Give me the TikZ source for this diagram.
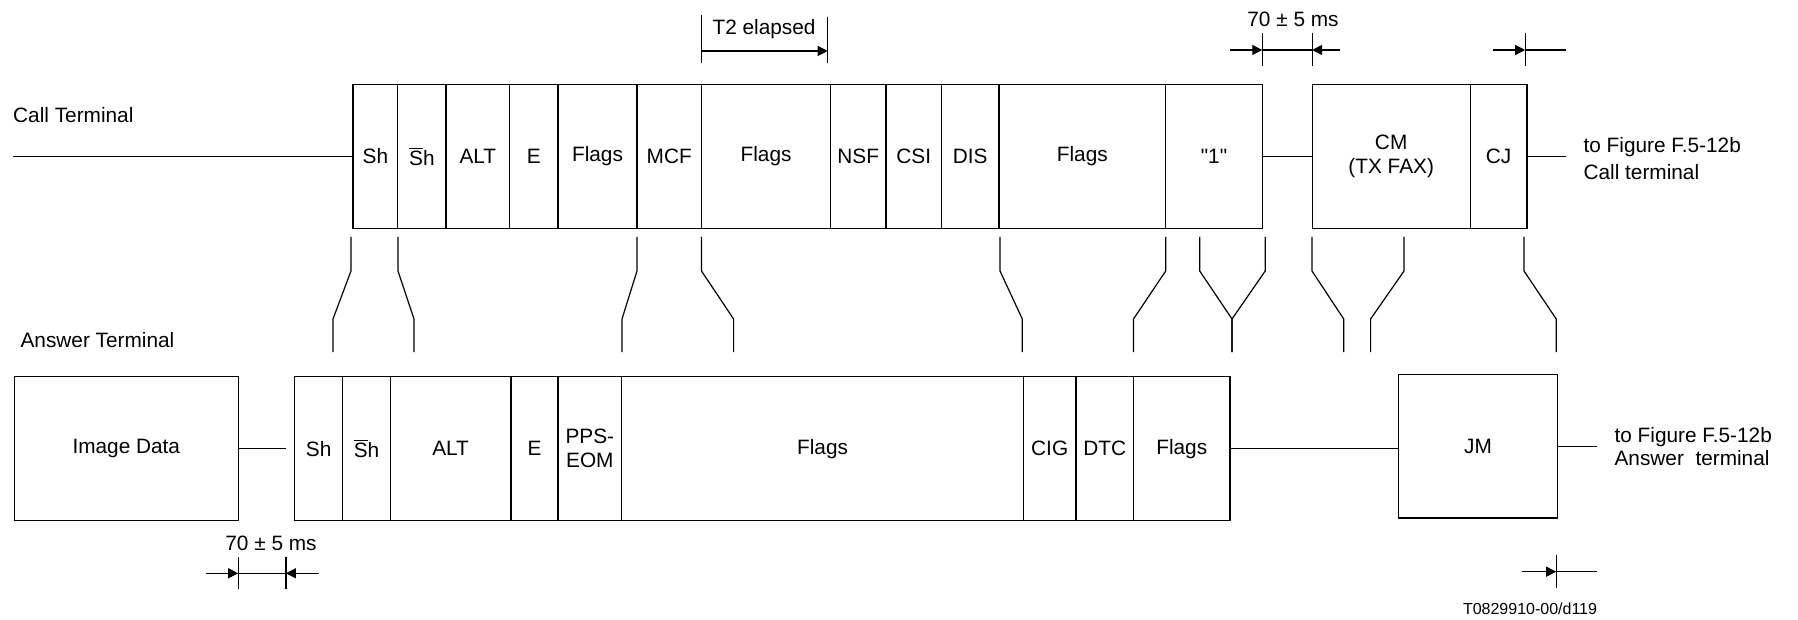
\documentclass[tikz,border=0pt]{standalone}
\usepackage{fontspec}
\setmainfont{Liberation Sans}
\usetikzlibrary{arrows.meta, positioning}

\begin{document}
\begin{tikzpicture}[
    x=0.5pt, y=-0.5pt,
    line width=0.6pt,
    node distance=0pt,
    font=\fontsize{10.4}{12}\selectfont,
    cell/.style={rectangle, draw, minimum height=72pt, inner sep=0pt, outer sep=0pt, align=center},
    label_style/.style={inner sep=0pt},
    to_style/.style={align=left, inner xsep=8.5pt, inner ysep=0pt, anchor=west},
    dim_arrow/.style={-{Triangle[length=5pt, width=5pt]}}
]
\useasboundingbox (0,0) rectangle (1798,620);

% call terminal
\node[label_style, anchor=west] (call_lbl) at (12.6,115) {Call Terminal};
\coordinate (call_start) at (12.6,156.5);
\node[cell, minimum width=22.4pt, anchor=west] (c_sh) at (353,156.5) {Sh};
\node[cell, minimum width=24.1pt, right=of c_sh] (c_shbar) {$\overline{\mbox{S}}$h};
\node[cell, minimum width=31.85pt, right=of c_shbar] (c_alt) {ALT};
\node[cell, minimum width=24.15pt, right=of c_alt] (c_e) {E};
\node[cell, minimum width=39.5pt, right=of c_e] (c_flags1) {Flags};
\node[cell, minimum width=32.25pt, right=of c_flags1] (c_mcf) {MCF};
\node[cell, minimum width=64.55pt, right=of c_mcf] (c_flags2) {Flags};
\node[cell, minimum width=27.65pt, right=of c_flags2] (c_nsf) {NSF};
\node[cell, minimum width=27.8pt, right=of c_nsf] (c_csi) {CSI};
\node[cell, minimum width=28.7pt, right=of c_csi] (c_dis) {DIS};
\node[cell, minimum width=83.4pt, right=of c_dis] (c_flags3) {Flags};
\node[cell, minimum width=48.3pt, right=of c_flags3] (c_one) {\textquotedbl 1\textquotedbl};
\node[cell, minimum width=79.05pt, anchor=west] (c_cm) at (1312.1,156.5) {CM\\(TX FAX)};
\node[cell, minimum width=28.4pt, right=of c_cm] (c_cj) {CJ};
\node[to_style, font=\fontsize{10.4}{13.4}\selectfont] (call_to) at (1566,158.5) {to Figure F.5-12b\\Call terminal};

\draw (call_start) -- (c_sh.west);
\draw (c_one.east) -- (c_cm.west);
\draw (c_cj.east) -- (c_cj.east -| call_to.west);

% answer terminal
\node[label_style, anchor=west] (ans_lbl) at (20,340) {Answer Terminal};
\node[cell, minimum width=111.9pt, anchor=west] (a_img) at (14.4,448.7) {Image Data};
\node[cell, minimum width=24.1pt, anchor=west] (a_sh) at (294.5,448.7) {Sh};
\node[cell, minimum width=23.8pt, right=of a_sh] (a_shbar) {$\overline{\mbox{S}}$h};
\node[cell, minimum width=60.3pt, right=of a_shbar] (a_alt) {ALT};
\node[cell, minimum width=23.55pt, right=of a_alt] (a_e) {E};
\node[cell, minimum width=31.85pt, right=of a_e] (a_pps) {PPS-\\EOM};
\node[cell, minimum width=200.85pt, right=of a_pps] (a_flags1) {Flags};
\node[cell, minimum width=26.3pt, right=of a_flags1] (a_cig) {CIG};
\node[cell, minimum width=28.75pt, right=of a_cig] (a_dtc) {DTC};
\node[cell, minimum width=48.25pt, right=of a_dtc] (a_flags2) {Flags};
\node[cell, minimum width=79.35pt, minimum height=71.85pt, anchor=west] (a_jm) at (1398.7,446.2) {JM};
\node[to_style, font=\fontsize{10.4}{11.7}\selectfont] (ans_to) at (1597,446.7) {to Figure F.5-12b\\Answer\ \ terminal};

\draw (a_img.east) -- ([xshift=-4.2pt]a_sh.west);
\draw (a_flags2.east) -- (a_flags2.east -| a_jm.west);
\draw (a_jm.east) -- (a_jm.east -| ans_to.west);

% ties between the two terminals
\foreach \top/\bot in {351/333, 398/414, 637/622, 701.5/733.6, 1000/1022.3, 1165.7/1133.5,
                       1199.7/1232, 1265.2/1232, 1312/1343.7, 1404/1370.6, 1524/1556.2}
    \draw (\top,237) -- (\top,271) -- (\bot,319) -- (\bot,352);

% timing marks
\draw (701.5,15) -- (701.5,63);
\draw (827.7,17) -- (827.7,63);
\draw[dim_arrow] (701.5,51) -- (827.7,51);
\node (t2_lbl) at (764,29) {T2 elapsed};

\draw (1262.3,33) -- (1262.3,66);
\draw (1312.1,33) -- (1312.1,66);
\draw[dim_arrow] (1230,50) -- (1262.3,50);
\draw[dim_arrow] (1339.6,50) -- (1312.1,50);
\draw (1262.3,50) -- (1312.1,50);
\node (gap_lbl) at (1293,19.5) {70 ± 5 ms};

\draw (1525.2,33) -- (1525.2,66);
\draw[dim_arrow] (1493,50) -- (1525.2,50);
\draw (1525.2,50) -- (1566,50);

\draw (238.2,557) -- (238.2,589);
\draw (285.9,557) -- (285.9,589);
\draw[dim_arrow] (205.5,573.3) -- (238.2,573.3);
\draw[dim_arrow] (318.6,573.3) -- (285.9,573.3);
\draw (238.2,573.3) -- (285.9,573.3);
\node (gap2_lbl) at (271,543.3) {70 ± 5 ms};

\draw (1556.2,555) -- (1556.2,588);
\draw[dim_arrow] (1522.3,571.7) -- (1556.2,571.7);
\draw (1556.2,571.7) -- (1597,571.7);

\node[font=\fontsize{8}{9}\selectfont] (fig_id) at (1530,609) {T0829910-00/d119};
\end{tikzpicture}
\end{document}
